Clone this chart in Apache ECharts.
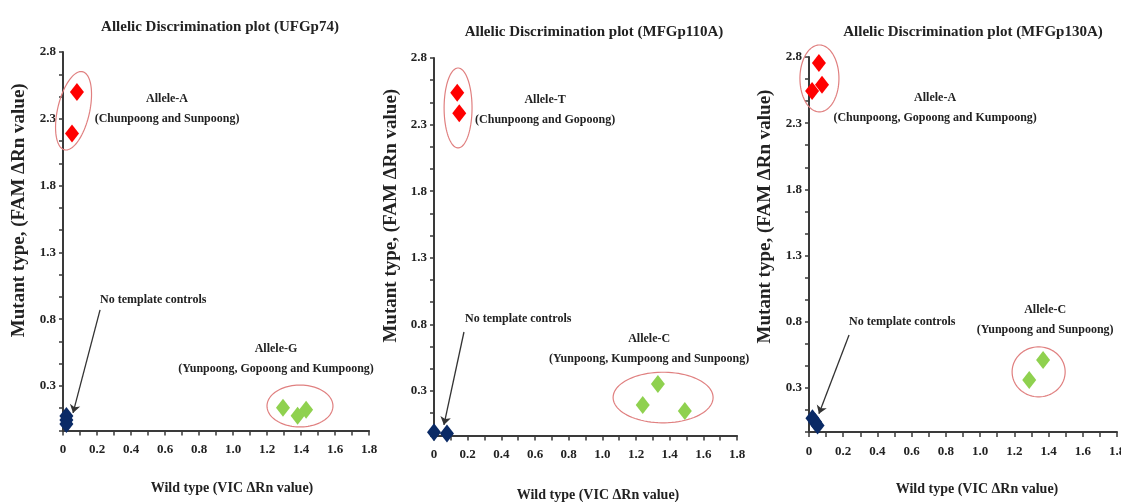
<!DOCTYPE html>
<html><head><meta charset="utf-8">
<script src="https://cdn.jsdelivr.net/npm/echarts@6/dist/echarts.min.js"></script>
<style>html,body{margin:0;padding:0;background:#fff}#c{width:1121px;height:502px}</style>
</head><body><div id="c"></div>
<script>
// ---- data ----
const panelTitles = ['Allelic Discrimination plot (UFGp74)', 'Allelic Discrimination plot (MFGp110A)', 'Allelic Discrimination plot (MFGp130A)'];
const xAxisName = 'Wild type (VIC \u0394Rn value)';
const yAxisName = 'Mutant type, (FAM \u0394Rn value)';
const xTickLabels = ['0', '0.2', '0.4', '0.6', '0.8', '1.0', '1.2', '1.4', '1.6', '1.8'];
const yTickLabels = ['0.3', '0.8', '1.3', '1.8', '2.3', '2.8'];

// panel 1 (UFGp74)
const p1Red = [[0.082, 2.50], [0.053, 2.19]];
const p1Green = [[1.294, 0.137], [1.380, 0.078], [1.430, 0.122]];
const p1Blue = [[0.02, 0.075], [0.02, 0.045], [0.02, 0.015]];
// ellipses: [cx, cy, rx, ry, rotationDeg]
const p1Ellipses = [[0.062, 2.36, 0.094, 0.30, 13], [1.394, 0.15, 0.194, 0.157, 0]];
const p1Arrow = [[0.218, 0.869], [0.059, 0.098]];
const p1Notes = [
  [0.612, 2.373, 'Allele-A\n(Chunpoong and Sunpoong)', 'center'],
  [0.218, 0.944, 'No template controls', 'left'],
  [1.253, 0.506, 'Allele-G\n(Yunpoong, Gopoong and Kumpoong)', 'center']
];

// panel 2 (MFGp110A)
const p2Red = [[0.138, 2.54], [0.150, 2.385]];
const p2Green = [[1.24, 0.195], [1.33, 0.353], [1.49, 0.15]];
const p2Blue = [[0.0, -0.01], [0.077, -0.02]];
const p2Ellipses = [[0.143, 2.425, 0.083, 0.30, 0], [1.361, 0.251, 0.297, 0.19, 0]];
const p2Arrow = [[0.178, 0.743], [0.059, 0.045]];
const p2Notes = [
  [0.66, 2.41, 'Allele-T\n(Chunpoong and Gopoong)', 'center'],
  [0.184, 0.84, 'No template controls', 'left'],
  [1.278, 0.615, 'Allele-C\n(Yunpoong, Kumpoong and Sunpoong)', 'center']
];

// panel 3 (MFGp130A)
const p3Red = [[0.058, 2.755], [0.018, 2.543], [0.076, 2.59]];
const p3Green = [[1.287, 0.36], [1.368, 0.51]];
const p3Blue = [[0.02, 0.07], [0.035, 0.045], [0.05, 0.015]];
const p3Ellipses = [[0.061, 2.638, 0.114, 0.253, 0], [1.342, 0.421, 0.155, 0.189, 0]];
const p3Arrow = [[0.234, 0.70], [0.058, 0.104]];
const p3Notes = [
  [0.737, 2.419, 'Allele-A\n(Chunpoong, Gopoong and Kumpoong)', 'center'],
  [0.234, 0.798, 'No template controls', 'left'],
  [1.38, 0.814, 'Allele-C\n(Yunpoong and Sunpoong)', 'center']
];

// ---- layout / style ----
const FONT = '"Liberation Serif", "Times New Roman", serif';
const TXT = '#222';
const AXC = '#3a3a3a';
const layout = [
  {left: 63, top: 52, width: 306, height: 378.5, titleX: 215, titleTop: 15, xGap: 51, xPad: 32, yGap: 34, yPad: 62},
  {left: 434, top: 58, width: 303, height: 377.4, titleX: 589, titleTop: 20, xGap: 53, xPad: 25, yGap: 33, yPad: 62},
  {left: 809, top: 57, width: 308, height: 375, titleX: 968, titleTop: 20, xGap: 50, xPad: 28, yGap: 34, yPad: 56}
];
const panels = [
  {red: p1Red, green: p1Green, blue: p1Blue, ell: p1Ellipses, arrow: p1Arrow, notes: p1Notes},
  {red: p2Red, green: p2Green, blue: p2Blue, ell: p2Ellipses, arrow: p2Arrow, notes: p2Notes},
  {red: p3Red, green: p3Green, blue: p3Blue, ell: p3Ellipses, arrow: p3Arrow, notes: p3Notes}
];

const grids = [], xAxes = [], yAxes = [], titles = [], series = [];
layout.forEach((L, i) => {
  grids.push({left: L.left, top: L.top, width: L.width, height: L.height, containLabel: false, outerBoundsMode: 'none'});
  titles.push({text: panelTitles[i], left: L.titleX, top: L.titleTop, textAlign: 'center',
    textStyle: {fontFamily: FONT, fontWeight: 'bold', fontSize: 15, color: TXT}});
  xAxes.push({
    gridIndex: i, type: 'value', min: 0, max: 1.8, interval: 0.1,
    axisLine: {show: true, onZero: false, lineStyle: {color: AXC, width: 2}},
    axisTick: {show: true, length: 5, lineStyle: {color: AXC, width: 1.5}},
    splitLine: {show: false},
    axisLabel: {
      margin: 13, color: TXT, fontFamily: FONT, fontWeight: 'bold', fontSize: 13,
      formatter: v => { const k = Math.round(v * 10); return k % 2 === 0 ? xTickLabels[k / 2] : ''; }
    },
    name: xAxisName, nameLocation: 'middle', nameGap: L.xGap,
    nameTextStyle: {fontFamily: FONT, fontWeight: 'bold', fontSize: 14, color: TXT, padding: [0, 0, 0, L.xPad]}
  });
  yAxes.push({
    gridIndex: i, type: 'value', min: -1 / 30, max: 2.8, interval: 1 / 6,
    axisLine: {show: true, onZero: false, lineStyle: {color: AXC, width: 2}},
    axisTick: {show: true, length: 4, lineStyle: {color: AXC, width: 1.5}},
    splitLine: {show: false},
    axisLabel: {
      margin: 7, color: TXT, fontFamily: FONT, fontWeight: 'bold', fontSize: 13,
      formatter: v => { const s = (Math.round(v * 10) / 10).toFixed(1); return yTickLabels.indexOf(s) >= 0 && Math.abs(v - parseFloat(s)) < 0.01 ? s : ''; }
    },
    name: yAxisName, nameLocation: 'middle', nameGap: L.yGap, nameRotate: 90,
    nameTextStyle: {fontFamily: FONT, fontWeight: 'bold', fontSize: 19, color: TXT, padding: [0, 0, 0, L.yPad]}
  });

  const P = panels[i];
  // ellipses
  series.push({
    type: 'custom', xAxisIndex: i, yAxisIndex: i, silent: true, clip: false, z: 1,
    encode: {x: 0, y: 1},
    data: P.ell,
    renderItem: (params, api) => {
      const c = api.coord([api.value(0), api.value(1)]);
      const s = api.size([api.value(2), api.value(3)]);
      const rot = api.value(4) * Math.PI / 180;
      const pts = [];
      for (let k = 0; k < 90; k++) {
        const t = k / 90 * 2 * Math.PI;
        const ex = s[0] * Math.cos(t), ey = s[1] * Math.sin(t);
        pts.push([c[0] + ex * Math.cos(rot) - ey * Math.sin(rot), c[1] + ex * Math.sin(rot) + ey * Math.cos(rot)]);
      }
      return {type: 'polygon', shape: {points: pts}, style: {fill: 'none', stroke: '#e08080', lineWidth: 1.2}};
    }
  });
  // annotation texts
  series.push({
    type: 'custom', xAxisIndex: i, yAxisIndex: i, silent: true, clip: false, z: 3,
    encode: {x: 0, y: 1},
    data: P.notes.map(n => [n[0], n[1]]),
    renderItem: (params, api) => {
      const n = P.notes[params.dataIndex];
      const p = api.coord([api.value(0), api.value(1)]);
      return {type: 'text', x: p[0], y: p[1], style: {text: n[2], fill: TXT, font: 'bold 12px ' + FONT, align: n[3], verticalAlign: 'middle', lineHeight: 20}};
    }
  });
  const sym = {symbol: 'diamond', symbolSize: [14, 18]};
  series.push(Object.assign({type: 'scatter', name: 'Allele 2', xAxisIndex: i, yAxisIndex: i, data: P.red, itemStyle: {color: '#ff0000', opacity: 1}, z: 4}, sym));
  series.push(Object.assign({type: 'scatter', name: 'Allele 1', xAxisIndex: i, yAxisIndex: i, data: P.green, itemStyle: {color: '#8fd14f', opacity: 1}, z: 4}, sym));
  series.push(Object.assign({type: 'scatter', name: 'NTC', xAxisIndex: i, yAxisIndex: i, data: P.blue, itemStyle: {color: '#0a2a66', opacity: 1}, z: 4, clip: false,
    markLine: {
      silent: true, symbol: ['none', 'arrow'], symbolSize: 8, label: {show: false},
      lineStyle: {color: '#333', width: 1.3, type: 'solid'},
      data: [[{coord: P.arrow[0]}, {coord: P.arrow[1]}]]
    }}, sym));
});

const chart = echarts.init(document.getElementById('c'), null, {renderer: 'canvas'});
chart.setOption({
  animation: false,
  backgroundColor: '#fff',
  title: titles,
  grid: grids,
  xAxis: xAxes,
  yAxis: yAxes,
  series: series
});
</script>
</body></html>
